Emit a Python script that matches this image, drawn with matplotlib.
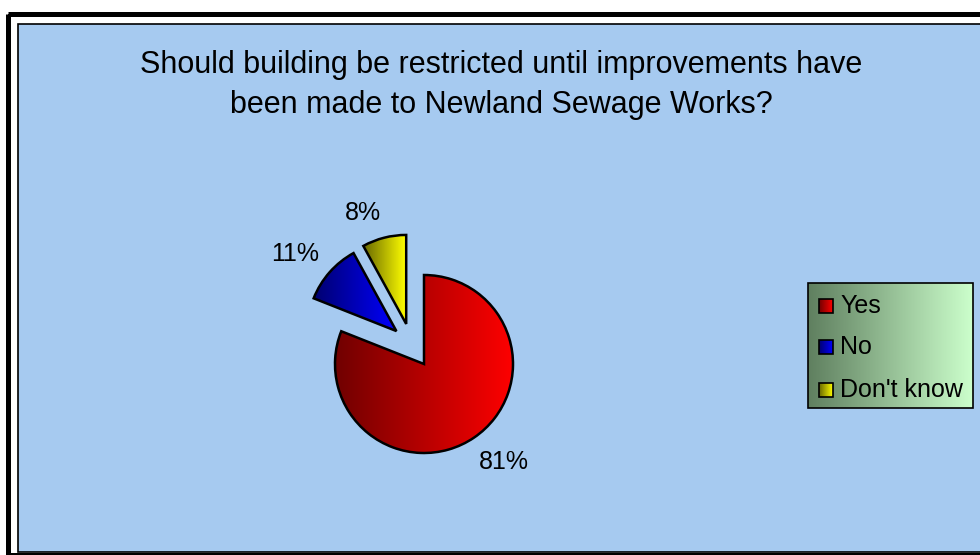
import numpy as np
import matplotlib
matplotlib.use("Agg")
from matplotlib import pyplot as plt
from matplotlib.patches import Rectangle
from matplotlib.colors import LinearSegmentedColormap

plt.rcParams['font.family'] = ['Liberation Sans', 'DejaVu Sans']

title = "Should building be restricted until improvements have\nbeen made to Newland Sewage Works?"
categories = ["Yes", "No", "Don't know"]
shares = [81, 11, 8]
dark_colors = ["#700000", "#000070", "#666600"]
light_colors = ["#ff0000", "#0000ff", "#ffff00"]

W, H = 980, 555
fig = plt.figure(figsize=(W / 100, H / 100), dpi=100)
fig.patch.set_facecolor("white")

# background axes in pixel coordinates
bg = fig.add_axes([0, 0, 1, 1])
bg.set_xlim(0, W)
bg.set_ylim(H, 0)
bg.axis("off")
bg.add_patch(Rectangle((7.5, 13.5), 1000, 541, fill=False, ec="black", lw=3.6))
bg.add_patch(Rectangle((18, 24), 1000, 528, fc="#a6caf0", ec="black", lw=1.2))

bg.text(501, 50, title, ha="center", va="top", fontsize=22, linespacing=1.45)


def gradient_fill(ax, patch, c0, c1, extent):
    cmap = LinearSegmentedColormap.from_list("g", [c0, c1])
    grad = np.linspace(0, 1, 256).reshape(1, -1)
    im = ax.imshow(grad, cmap=cmap, extent=extent, aspect="auto",
                   origin="lower", zorder=patch.get_zorder() - 0.1)
    im.set_clip_path(patch)
    return im


# pie axes, centre at (424, 364) px, radius 89 px
cx, cy, r = 424, 364, 89
half = 2 * r
pie_ax = fig.add_axes([(cx - half) / W, (H - cy - half) / H, 2 * half / W, 2 * half / H])
wedges, _ = pie_ax.pie(shares, startangle=90, counterclock=False,
                       colors=["none"] * 3,
                       wedgeprops=dict(edgecolor="black", linewidth=1.8))
# pulled-out slices, offsets in pie-radius units (as Excel drew them)
pull_out = [(0.0, 0.0), (-0.31, 0.37), (-0.20, 0.45)]
for w, (dx, dy), c0, c1 in zip(wedges, pull_out, dark_colors, light_colors):
    w.set_center((dx, dy))
    v = w.get_path().vertices
    ext = [v[:, 0].min(), v[:, 0].max(), v[:, 1].min(), v[:, 1].max()]
    w.set_zorder(3)
    gradient_fill(pie_ax, w, c0, c1, ext)
pie_ax.set_xlim(-2, 2)
pie_ax.set_ylim(-2, 2)
pie_ax.set_aspect("equal")
pie_ax.axis("off")

# percentage labels (offsets in pie-radius units)
label_pos = [(0.90, -1.10), (-1.45, 1.24), (-0.69, 1.70)]
for s, (lx, ly) in zip(shares, label_pos):
    pie_ax.text(lx, ly, f"{s}%", ha="center", va="center", fontsize=18)

# legend box
lx0, ly0, lw_, lh_ = 808, 283, 165, 125
leg_rect = Rectangle((lx0, ly0), lw_, lh_, fc="none", ec="black", lw=1.2, zorder=5)
bg.add_patch(leg_rect)
gradient_fill(bg, leg_rect, "#5f7f5f", "#ccffcc", [lx0, lx0 + lw_, ly0 + lh_, ly0])
row_y = [306, 347, 390]
for name, c0, c1, yy in zip(categories, dark_colors, light_colors, row_y):
    sq = Rectangle((819, yy - 7), 14, 14, fc="none", ec="black", lw=1.2, zorder=6)
    bg.add_patch(sq)
    gradient_fill(bg, sq, c0, c1, [819, 833, yy + 7, yy - 7])
    bg.text(840, yy, name, ha="left", va="center", fontsize=18, zorder=7)

bg.set_xlim(0, W)
bg.set_ylim(H, 0)
fig.savefig("out.png", dpi=100)
